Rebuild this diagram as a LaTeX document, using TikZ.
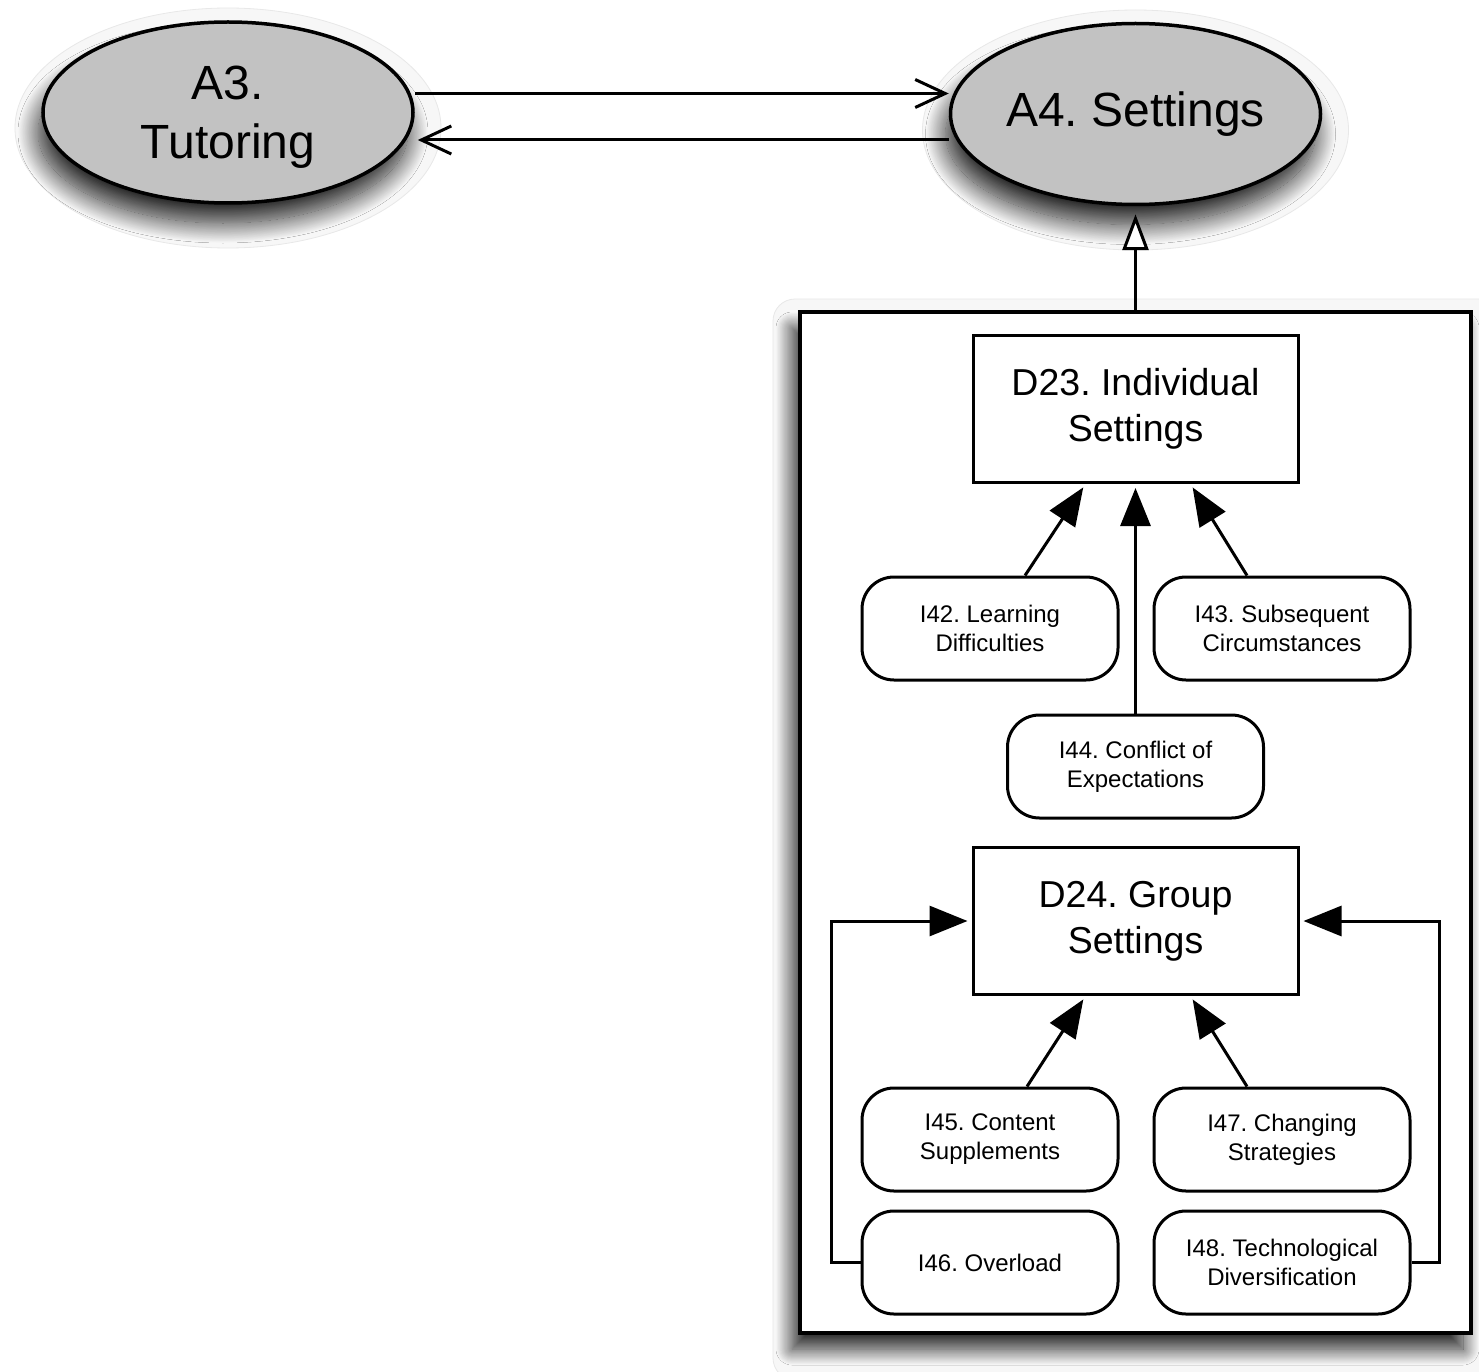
\documentclass[tikz,border=0pt]{standalone}
\usepackage{fontspec}
\setmainfont{Liberation Sans}
\frenchspacing
\usetikzlibrary{arrows.meta,shapes.geometric,shadows.blur}
\definecolor{conceptgray}{gray}{0.76}
\begin{document}
\begin{tikzpicture}[x=1pt,y=-1pt,
  halo/.style={fill=black!3,draw=black!9,line width=0.8pt},
  concept/.style={ellipse,draw,line width=3.5pt,fill=conceptgray,
    minimum width=370pt,minimum height=181pt,inner sep=0pt,
    blur shadow={shadow xshift=-5pt,shadow yshift=-20pt,shadow blur radius=20pt,
      shadow blur steps=30,shadow opacity=85}},
  bigtext/.style={font=\fontsize{48pt}{59pt}\selectfont,align=center,inner sep=0pt},
  groupframe/.style={rectangle,draw,line width=4pt,fill=white,
    minimum width=671pt,minimum height=1021pt,
    blur shadow={shadow xshift=-8pt,shadow yshift=-16pt,shadow blur radius=16pt,
      shadow blur steps=30,shadow opacity=85}},
  dimbox/.style={rectangle,draw,line width=3pt,fill=white,minimum width=325pt,minimum height=147pt,
    align=center,font=\fontsize{37.5pt}{46pt}\selectfont},
  itembox/.style={rectangle,rounded corners=32pt,draw,line width=3pt,fill=white,
    minimum width=256pt,minimum height=103pt,align=center,
    font=\fontsize{24pt}{29pt}\selectfont},
  barb/.style={line width=3pt,-{Straight Barb[length=30pt,width=28pt]}},
  hollow/.style={line width=3pt,-{Triangle[open,length=36pt,width=26pt,fill=white]}},
  solidhead/.style={line width=3pt,-{Triangle[length=38pt,width=30pt]},shorten >=4pt},
]
\useasboundingbox (0,0) rectangle (1479,1372);
\fill[white] (0,0) rectangle (1479,1372);

% faint glows round the top concepts and the group frame
\path[halo] (228,128) ellipse [x radius=213pt,y radius=120pt];
\path[halo] (1135.5,130) ellipse [x radius=213pt,y radius=120pt];
\path[halo,rounded corners=22pt] (773,299) rectangle (1500,1380);

% top-level concepts
\node[concept] (A3) at (228,112.5) {};
\node[bigtext] (A3t) at (228,117) {A3.\\Tutoring};
\node[concept,bigtext] (A4) at (1135.5,114) {A4. Settings};

\draw[barb] ([yshift=19pt]A3.east) -- ([yshift=19pt]A3.east -| A4.west);
\draw[barb,shorten >=3pt] ([yshift=-26pt]A4.west) -- ([yshift=-26pt]A4.west -| A3.east);

% grouping frame
\node[groupframe] (grp) at (1135.5,822.5) {};
\draw[hollow,shorten >=8pt] (grp.north) -- (A4.south);

% dimensions
\node[dimbox] (D23) at (1135.5,409) {D23. Individual\\Settings};
\node[dimbox] (D24) at (1135.5,921) {D24. Group\\Settings};

% items
\node[itembox] (I42) at (990,628.5) {I42. Learning\\Difficulties};
\node[itembox] (I43) at (1282,628.5) {I43. Subsequent\\Circumstances};
\node[itembox] (I44) at (1135.5,766.5) {I44. Conflict of\\Expectations};
\node[itembox] (I45) at (990,1139.5) {I45. Content\\Supplements};
\node[itembox] (I47) at (1282,1139.5) {I47. Changing\\Strategies};
\node[itembox] (I46) at (990,1262.5) {I46. Overload};
\node[itembox] (I48) at (1282,1262.5) {I48. Technological\\Diversification};

% item-to-dimension links
\draw[solidhead] ([xshift=35pt]I42.north) -- ([xshift=-50pt]D23.south);
\draw[solidhead] ([xshift=-35pt]I43.north) -- ([xshift=55pt]D23.south);
\draw[solidhead] (I44.north) -- (D23.south);
\draw[solidhead] ([xshift=37pt]I45.north) -- ([xshift=-50pt]D24.south);
\draw[solidhead] ([xshift=-35pt]I47.north) -- ([xshift=55pt]D24.south);
\draw[solidhead] (I46.west) -- ++(-29pt,0) |- (D24.west);
\draw[solidhead] (I48.east) -- ++(28pt,0) |- (D24.east);
\end{tikzpicture}
\end{document}
